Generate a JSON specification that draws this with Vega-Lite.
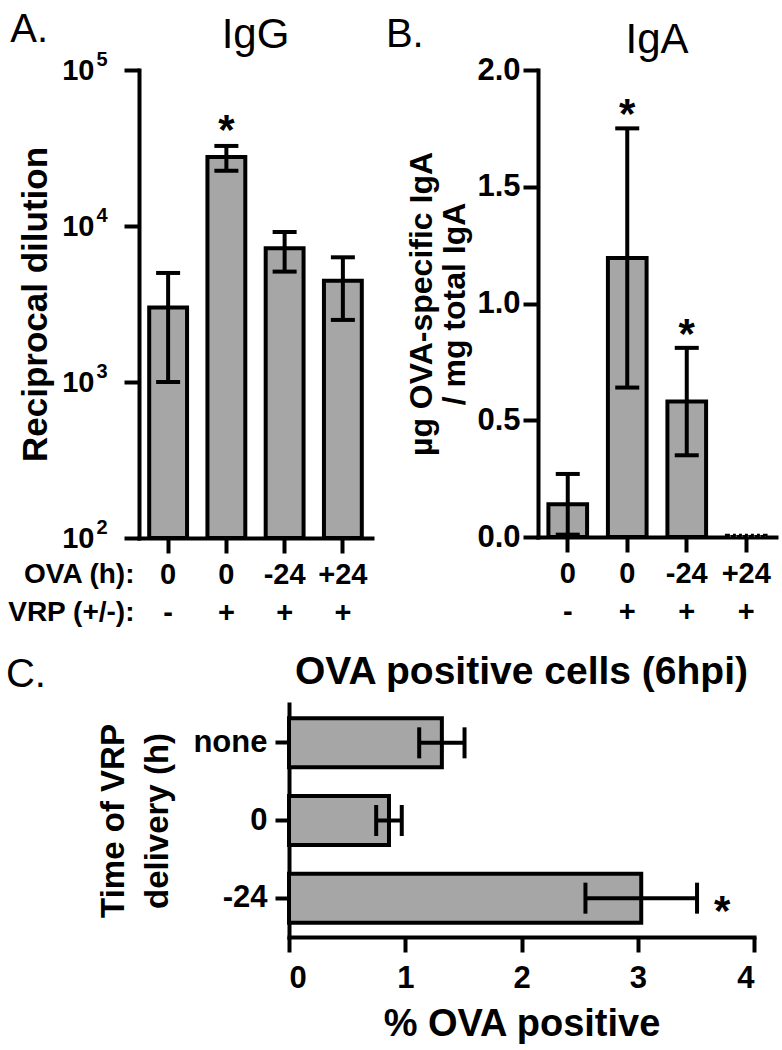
{
  "$schema": "https://vega.github.io/schema/vega-lite/v6.json",
  "padding": {"left": 5, "top": 10, "right": 4, "bottom": 4},
  "background": "white",
  "config": {
    "font": "Liberation Sans",
    "view": {"stroke": null},
    "axis": {
      "domainColor": "black", "domainWidth": 4, "domainCap": "square",
      "tickColor": "black", "tickWidth": 4, "tickSize": 15,
      "labelColor": "black", "titleColor": "black",
      "labelFontWeight": "bold", "titleFontWeight": "bold", "grid": false
    },
    "title": {"color": "black", "fontWeight": "normal"}
  },
  "datasets": {
    "igg": [
      {"cat": "0|-", "v": 3000, "lo": 1000, "hi": 5000, "sig": ""},
      {"cat": "0|+", "v": 27700, "lo": 22600, "hi": 32600, "sig": "*"},
      {"cat": "-24|+", "v": 7200, "lo": 5100, "hi": 9150, "sig": ""},
      {"cat": "+24|+", "v": 4450, "lo": 2500, "hi": 6300, "sig": ""}
    ],
    "iga": [
      {"cat": "0|-", "v": 0.14, "lo": 0.01, "hi": 0.27, "sig": ""},
      {"cat": "0|+", "v": 1.195, "lo": 0.64, "hi": 1.75, "sig": "*"},
      {"cat": "-24|+", "v": 0.58, "lo": 0.35, "hi": 0.81, "sig": "*"},
      {"cat": "+24|+", "v": 0.005, "lo": null, "hi": null, "sig": ""}
    ],
    "ova": [
      {"t": "none", "v": 1.315, "lo": 1.12, "hi": 1.51, "sig": ""},
      {"t": "0", "v": 0.86, "lo": 0.75, "hi": 0.97, "sig": ""},
      {"t": "-24", "v": 3.03, "lo": 2.55, "hi": 3.51, "sig": "*"}
    ]
  },
  "spacing": 26,
  "vconcat": [
    {
      "spacing": 13,
      "hconcat": [
        {
          "title": {"text": "A.", "fontSize": 40, "fontWeight": "normal", "anchor": "start", "dx": 3, "dy": 40},
          "vconcat": [
            {
              "width": 233, "height": 468,
              "title": {"text": "IgG", "fontSize": 42, "fontWeight": "normal", "anchor": "middle", "frame": "group", "offset": -8},
              "data": {"name": "igg"},
              "encoding": {
                "x": {
                  "field": "cat", "type": "nominal", "sort": null,
                  "scale": {"paddingInner": 0.35, "paddingOuter": 0.175},
                  "axis": {
                    "labelExpr": "split(datum.value, '|')", "labelAngle": 0, "labelFontSize": 29,
                    "labelLineHeight": 38, "labelPadding": 7,
                    "title": ["OVA (h):", "VRP (+/-):"], "titleFontSize": 28, "titleLineHeight": 38,
                    "titleX": -5, "titleY": 22, "titleAlign": "right", "titleBaseline": "top", "titleAngle": 0
                  }
                }
              },
              "resolve": {"axis": {"y": "independent"}},
              "layer": [
                {
                  "mark": {"type": "bar", "fill": "#a6a6a6", "stroke": "black", "strokeWidth": 4},
                  "encoding": {
                    "y": {
                      "field": "v", "type": "quantitative",
                      "scale": {"type": "log", "domain": [100, 100000], "nice": false},
                      "axis": {
                        "orient": "left",
                        "values": [100, 1000, 10000, 100000],
                        "labelExpr": "'10'",
                        "labelFontSize": 29, "labelPadding": 30,
                        "title": "Reciprocal dilution", "titleFontSize": 35, "titlePadding": 8
                      }
                    },
                    "y2": {"datum": 100}
                  }
                },
                {
                  "mark": {"type": "rule", "strokeWidth": 4, "color": "black"},
                  "encoding": {"y": {"field": "lo", "type": "quantitative", "axis": null}, "y2": {"field": "hi"}}
                },
                {
                  "mark": {"type": "tick", "size": 24, "thickness": 4, "color": "black", "opacity": 1},
                  "encoding": {
                    "y": {
                      "field": "lo", "type": "quantitative",
                      "axis": {
                        "orient": "left", "values": [100, 1000, 10000, 100000],
                        "labelExpr": "datum.value == 100 ? '2' : datum.value == 1000 ? '3' : datum.value == 10000 ? '4' : '5'",
                        "domain": false, "ticks": false, "tickSize": 0, "labelPadding": 32, "labelOffset": -11,
                        "labelFontSize": 20, "title": null
                      }
                    }
                  }
                },
                {
                  "mark": {"type": "tick", "size": 24, "thickness": 4, "color": "black", "opacity": 1},
                  "encoding": {"y": {"field": "hi", "type": "quantitative", "axis": null}}
                },
                {
                  "transform": [{"filter": "datum.sig == '*'"}],
                  "mark": {"type": "text", "fontSize": 42, "fontWeight": "bold", "baseline": "alphabetic", "dy": -2, "color": "black"},
                  "encoding": {"y": {"field": "hi", "type": "quantitative", "axis": null}, "text": {"field": "sig"}}
                }
              ]
            }
          ]
        },
        {
          "title": {"text": "B.", "fontSize": 40, "fontWeight": "normal", "anchor": "start", "dx": -20, "dy": 40},
          "vconcat": [
            {
              "width": 238, "height": 467,
              "title": {"text": "IgA", "fontSize": 42, "fontWeight": "normal", "anchor": "middle", "frame": "group", "offset": -8},
              "data": {"name": "iga"},
              "encoding": {
                "x": {
                  "field": "cat", "type": "nominal", "sort": null,
                  "scale": {"paddingInner": 0.35, "paddingOuter": 0.175},
                  "axis": {
                    "labelExpr": "split(datum.value, '|')", "labelAngle": 0, "labelFontSize": 29,
                    "labelLineHeight": 38, "labelPadding": 7, "title": null
                  }
                }
              },
              "layer": [
                {
                  "mark": {"type": "bar", "fill": "#a6a6a6", "stroke": "black", "strokeWidth": 4},
                  "encoding": {
                    "y": {
                      "field": "v", "type": "quantitative",
                      "scale": {"domain": [0, 2], "nice": false},
                      "axis": {
                        "values": [0, 0.5, 1, 1.5, 2], "format": ".1f",
                        "labelFontSize": 31, "labelPadding": 3,
                        "title": ["µg OVA-specific IgA", "/ mg total  IgA"], "titleFontSize": 32,
                        "titleLineHeight": 33, "titlePadding": 5
                      }
                    },
                    "strokeDash": {"condition": {"test": "datum.v < 0.05", "value": [3, 3]}, "value": [1, 0]}
                  }
                },
                {
                  "mark": {"type": "rule", "strokeWidth": 4, "color": "black"},
                  "encoding": {"y": {"field": "lo", "type": "quantitative", "title": ["µg OVA-specific IgA", "/ mg total  IgA"]}, "y2": {"field": "hi"}}
                },
                {
                  "mark": {"type": "tick", "size": 24, "thickness": 4, "color": "black", "opacity": 1},
                  "encoding": {"y": {"field": "lo", "type": "quantitative", "title": ["µg OVA-specific IgA", "/ mg total  IgA"]}}
                },
                {
                  "mark": {"type": "tick", "size": 24, "thickness": 4, "color": "black", "opacity": 1},
                  "encoding": {"y": {"field": "hi", "type": "quantitative", "title": ["µg OVA-specific IgA", "/ mg total  IgA"]}}
                },
                {
                  "transform": [{"filter": "datum.sig == '*'"}],
                  "mark": {"type": "text", "fontSize": 42, "fontWeight": "bold", "baseline": "alphabetic", "dy": 0, "color": "black"},
                  "encoding": {"y": {"field": "hi", "type": "quantitative", "title": ["µg OVA-specific IgA", "/ mg total  IgA"]}, "text": {"field": "sig"}}
                }
              ]
            }
          ]
        }
      ]
    },
    {
      "title": {"text": "C.", "fontSize": 40, "fontWeight": "normal", "anchor": "start", "dx": -92, "dy": 46},
      "bounds": "flush",
      "spacing": 149,
      "hconcat": [
        {
          "width": 1, "height": 1,
          "data": {"values": [{}]},
          "mark": {"type": "point", "opacity": 0}
        },
        {
          "width": 465, "height": 233,
          "title": {"text": "OVA positive cells (6hpi)", "fontSize": 39, "fontWeight": "bold", "anchor": "middle", "frame": "group", "offset": 12},
          "data": {"name": "ova"},
          "encoding": {
            "y": {
              "field": "t", "type": "nominal", "sort": null,
              "scale": {"paddingInner": 0.37, "paddingOuter": 0.185},
              "axis": {
                "labelFontSize": 31, "labelPadding": 8, "tickSize": 14,
                "title": ["Time of VRP", "delivery (h)"], "titleFontSize": 33, "titleLineHeight": 44, "titlePadding": 18
              }
            }
          },
          "layer": [
            {
              "mark": {"type": "bar", "fill": "#a6a6a6", "stroke": "black", "strokeWidth": 4},
              "encoding": {
                "x": {
                  "field": "v", "type": "quantitative",
                  "scale": {"domain": [0, 4], "nice": false},
                  "axis": {
                    "values": [0, 1, 2, 3, 4], "format": "d", "labelFontSize": 31, "labelPadding": 11,
                    "title": "% OVA positive", "titleFontSize": 38, "titlePadding": 12
                  }
                }
              }
            },
            {
              "mark": {"type": "rule", "strokeWidth": 4, "color": "black"},
              "encoding": {"x": {"field": "lo", "type": "quantitative", "title": "% OVA positive"}, "x2": {"field": "hi"}}
            },
            {
              "mark": {"type": "tick", "size": 31, "thickness": 4, "color": "black", "opacity": 1},
              "encoding": {"x": {"field": "lo", "type": "quantitative", "title": "% OVA positive"}}
            },
            {
              "mark": {"type": "tick", "size": 31, "thickness": 4, "color": "black", "opacity": 1},
              "encoding": {"x": {"field": "hi", "type": "quantitative", "title": "% OVA positive"}}
            },
            {
              "transform": [{"filter": "datum.sig == '*'"}],
              "mark": {"type": "text", "fontSize": 42, "fontWeight": "bold", "baseline": "alphabetic", "align": "left", "dx": 17, "dy": 27, "color": "black"},
              "encoding": {"x": {"field": "hi", "type": "quantitative", "title": "% OVA positive"}, "text": {"field": "sig"}}
            }
          ]
        }
      ]
    }
  ]
}
